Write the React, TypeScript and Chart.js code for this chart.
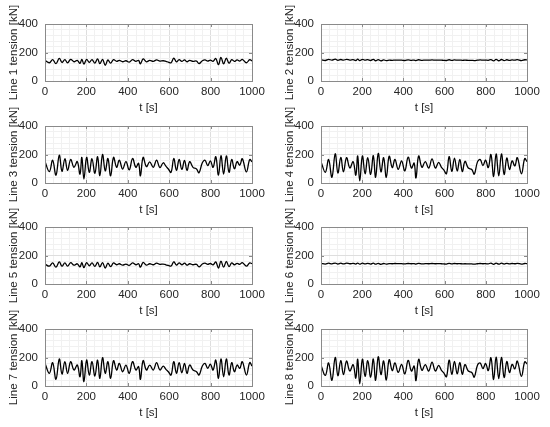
import React, { useEffect, useRef } from "react";
import { Chart, registerables } from "chart.js";

Chart.register(...registerables);

// Sample times [s]
const T = [0, 21, 37, 53, 69, 82, 96, 109, 124, 140, 156, 169, 178, 188, 201, 214, 227, 241, 254, 265, 278, 291, 304, 317, 331, 346, 359, 375, 391, 407, 423, 439, 452, 461, 474, 490, 506, 523, 539, 555, 571, 584, 596, 609, 622, 635, 648, 661, 674, 686, 699, 715, 732, 744, 760, 773, 786, 799, 812, 825, 838, 850, 863, 876, 889, 902, 915, 928, 941, 953, 973, 989, 1000];

// Line tensions [kN]
const LINE1 = [145, 128, 150, 122, 158, 130, 150, 128, 152, 135, 145, 124, 152, 118, 152, 130, 150, 126, 155, 122, 152, 110, 148, 125, 150, 138, 145, 135, 142, 132, 150, 138, 145, 120, 155, 135, 145, 138, 148, 140, 142, 138, 132, 128, 160, 135, 150, 138, 148, 135, 145, 138, 140, 122, 142, 148, 140, 146, 138, 158, 115, 165, 120, 160, 125, 150, 138, 148, 140, 152, 128, 150, 140];
const LINE2 = [150, 144, 152, 146, 154, 145, 151, 146, 152, 147, 150, 144, 153, 143, 152, 146, 150, 144, 152, 142, 150, 141, 148, 143, 146, 145, 147, 146, 146, 144, 148, 145, 147, 143, 149, 145, 147, 146, 148, 146, 147, 146, 145, 144, 149, 145, 148, 146, 147, 145, 146, 145, 145, 143, 146, 148, 146, 147, 145, 150, 141, 152, 142, 151, 143, 149, 145, 148, 146, 150, 143, 149, 148];
const LINE3 = [150, 80, 160, 55, 195, 82, 170, 88, 165, 110, 150, 62, 180, 28, 180, 75, 170, 68, 185, 52, 200, 85, 172, 50, 180, 110, 160, 98, 150, 92, 172, 110, 138, 50, 180, 115, 148, 110, 160, 108, 142, 118, 98, 75, 172, 88, 165, 95, 158, 88, 150, 110, 98, 72, 142, 160, 122, 155, 110, 185, 55, 192, 62, 190, 75, 165, 100, 150, 125, 170, 78, 165, 148];
const LINE4 = [150, 75, 165, 40, 205, 70, 180, 78, 178, 105, 150, 55, 190, 15, 190, 65, 178, 60, 192, 40, 208, 78, 178, 40, 188, 108, 165, 95, 155, 85, 182, 105, 140, 35, 190, 110, 150, 105, 170, 105, 145, 112, 92, 65, 185, 82, 175, 85, 165, 80, 152, 105, 95, 62, 150, 165, 122, 160, 108, 200, 45, 205, 50, 205, 60, 175, 95, 155, 120, 178, 65, 172, 150];
const LINE5 = [140, 125, 148, 118, 155, 125, 148, 125, 150, 132, 142, 120, 150, 115, 150, 128, 148, 124, 152, 120, 150, 112, 146, 122, 148, 135, 142, 132, 140, 130, 148, 135, 142, 118, 152, 132, 142, 135, 146, 138, 140, 135, 130, 126, 156, 132, 148, 135, 146, 132, 142, 135, 138, 120, 140, 146, 138, 144, 135, 155, 112, 160, 118, 158, 122, 148, 135, 145, 138, 150, 125, 148, 142];
const LINE6 = [145, 140, 146, 141, 147, 140, 146, 141, 146, 142, 145, 140, 147, 139, 146, 141, 145, 140, 146, 139, 145, 138, 144, 140, 143, 142, 144, 143, 143, 141, 144, 142, 143, 140, 145, 141, 143, 142, 144, 142, 143, 142, 141, 140, 145, 141, 144, 142, 143, 141, 142, 141, 141, 139, 142, 144, 142, 143, 141, 146, 138, 147, 139, 146, 140, 145, 141, 144, 142, 145, 140, 144, 143];
const LINE7 = [159, 89, 164, 47, 190, 84, 171, 89, 171, 112, 147, 65, 178, 30, 182, 77, 171, 70, 182, 54, 199, 89, 171, 54, 178, 112, 159, 100, 147, 89, 171, 112, 136, 47, 178, 112, 147, 112, 164, 112, 140, 117, 100, 77, 171, 89, 164, 93, 159, 89, 147, 112, 100, 77, 140, 159, 124, 154, 112, 182, 54, 190, 65, 190, 77, 164, 100, 147, 124, 171, 77, 164, 140];
const LINE8 = [145, 75, 162, 40, 200, 72, 178, 80, 175, 105, 150, 55, 188, 15, 188, 68, 178, 62, 190, 40, 205, 80, 176, 42, 185, 108, 162, 95, 152, 85, 180, 105, 140, 38, 188, 110, 150, 105, 168, 105, 145, 112, 92, 65, 182, 82, 172, 85, 165, 82, 150, 105, 95, 62, 148, 162, 122, 158, 108, 198, 45, 202, 52, 200, 60, 172, 95, 152, 120, 175, 68, 170, 155];

const SERIES = [LINE1, LINE2, LINE3, LINE4, LINE5, LINE6, LINE7, LINE8];
const Y_TITLES = [
  "Line 1 tension [kN]",
  "Line 2 tension [kN]",
  "Line 3 tension [kN]",
  "Line 4 tension [kN]",
  "Line 5 tension [kN]",
  "Line 6 tension [kN]",
  "Line 7 tension [kN]",
  "Line 8 tension [kN]",
];
const X_TITLE = "t [s]";
const X_MAX = 1000;
const Y_MAX = 400;
const MAJOR = 200;
const MINOR = 40;

const ROW_TOPS = [24, 126, 227, 329];
const CANVAS_W = 275;
const CANVAS_H = 115;
const FONT = "'Liberation Sans', Arial, Helvetica, sans-serif";
const TEXT = "#262626";

const boxPlugin = {
  id: "matlabBox",
  afterDatasetsDraw(chart: any) {
    const { ctx, chartArea: a, scales } = chart;
    ctx.save();
    ctx.strokeStyle = "#8a8a8a";
    ctx.lineWidth = 1;
    ctx.beginPath();
    const xs = scales.x;
    const ys = scales.y;
    for (let v = 0; v <= X_MAX; v += MAJOR) {
      const px = Math.round(xs.getPixelForValue(v)) + 0.5;
      ctx.moveTo(px, a.bottom);
      ctx.lineTo(px, a.bottom - 3);
      ctx.moveTo(px, a.top);
      ctx.lineTo(px, a.top + 3);
    }
    for (let v = 0; v <= Y_MAX; v += MAJOR) {
      const py = Math.round(ys.getPixelForValue(v)) + 0.5;
      ctx.moveTo(a.left, py);
      ctx.lineTo(a.left + 3, py);
      ctx.moveTo(a.right, py);
      ctx.lineTo(a.right - 3, py);
    }
    ctx.stroke();
    ctx.strokeRect(Math.round(a.left) + 0.5, Math.round(a.top) + 0.5, Math.round(a.right - a.left), Math.round(a.bottom - a.top));
    ctx.restore();
  },
};

function Panel({ index }: { index: number }) {
  const ref = useRef<HTMLCanvasElement | null>(null);
  const col = index % 2;
  const row = Math.floor(index / 2);
  useEffect(() => {
    if (!ref.current) return;
    const values = SERIES[index];
    const data = T.map((t, i) => ({ x: t, y: values[i] }));
    const gridColor = (c: any) =>
      c.tick && c.tick.value % MAJOR === 0 ? "#dedede" : "#f1f1f1";
    const chart = new Chart(ref.current, {
      type: "line",
      data: {
        datasets: [
          {
            data,
            borderColor: "#000000",
            borderWidth: 1.3,
            pointRadius: 0,
            tension: 0.4,
            fill: false,
          },
        ],
      },
      options: {
        animation: false,
        responsive: false,
        events: [],
        layout: { padding: { top: 24, right: 23, left: 0, bottom: 0 } },
        plugins: { legend: { display: false }, tooltip: { enabled: false } },
        scales: {
          x: {
            type: "linear",
            min: 0,
            max: X_MAX,
            afterFit: (s: any) => {
              s.height = 34;
            },
            ticks: {
              stepSize: MINOR,
              autoSkip: false,
              maxRotation: 0,
              padding: 4,
              color: TEXT,
              font: { family: FONT, size: 11.5 },
              callback: (v: any) => (Number(v) % MAJOR === 0 ? String(v) : ""),
            },
            grid: { color: gridColor, drawTicks: false, lineWidth: 1 },
            border: { display: false },
            title: {
              display: true,
              text: X_TITLE,
              color: TEXT,
              font: { family: FONT, size: 11.5 },
              padding: { top: 0, bottom: 0 },
            },
          },
          y: {
            type: "linear",
            min: 0,
            max: Y_MAX,
            afterFit: (s: any) => {
              s.width = col === 0 ? 45 : 46;
            },
            ticks: {
              stepSize: MINOR,
              autoSkip: false,
              padding: 7,
              color: TEXT,
              font: { family: FONT, size: 11.5 },
              callback: (v: any) => (Number(v) % MAJOR === 0 ? String(v) : ""),
            },
            grid: { color: gridColor, drawTicks: false, lineWidth: 1 },
            border: { display: false },
            title: {
              display: true,
              text: Y_TITLES[index],
              color: TEXT,
              font: { family: FONT, size: 11.5 },
              padding: { top: col === 0 ? 7 : 8, bottom: 0 },
            },
          },
        },
      },
      plugins: [boxPlugin],
    } as any);
    return () => chart.destroy();
  }, [index, col]);
  return (
    <canvas
      ref={ref}
      width={CANVAS_W}
      height={CANVAS_H}
      style={{
        position: "absolute",
        left: col * 275,
        top: ROW_TOPS[row] - 24,
        width: CANVAS_W,
        height: CANVAS_H,
      }}
    />
  );
}

export default function App() {
  return (
    <div
      style={{
        position: "fixed",
        left: 0,
        top: 0,
        width: 550,
        height: 427,
        background: "#ffffff",
        overflow: "hidden",
      }}
    >
      {SERIES.map((_, i) => (
        <Panel key={i} index={i} />
      ))}
    </div>
  );
}
